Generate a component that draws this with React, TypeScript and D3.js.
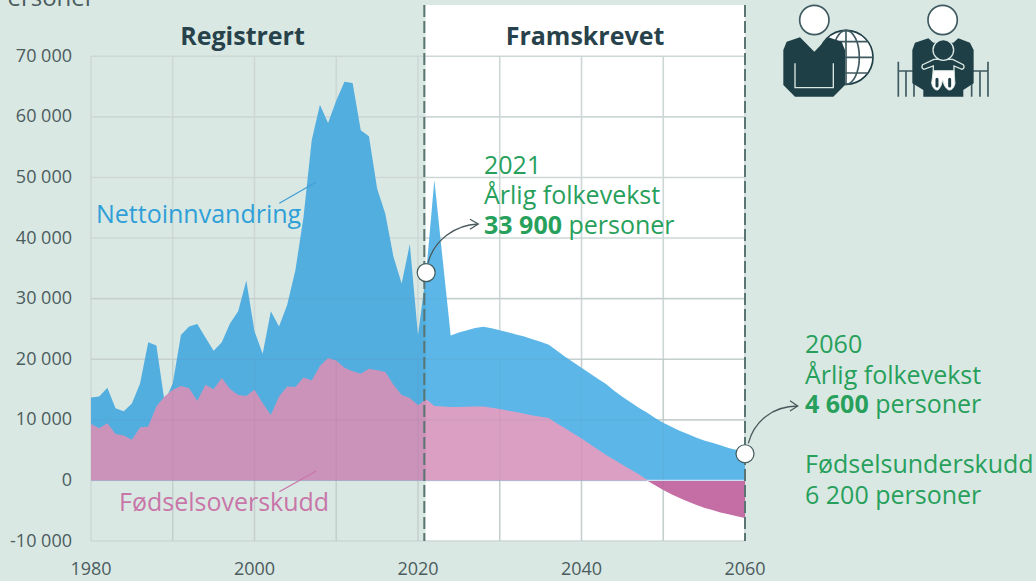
import React from "react";
import * as d3 from "d3";

const years = d3.range(1980, 2061);
const totalGrowth = [
  13700, 13850, 15300, 11900, 11400, 12700, 16000, 22800, 22250, 13000,
  16000, 24000, 25400, 25800, 23600, 21400, 22800, 25900, 27900, 33000,
  24600, 20900, 27900, 25400, 29000, 34700, 43500, 56150, 62000, 59000,
  62700, 65800, 65600, 57800, 56800, 48200, 44000, 36900, 32500, 39000,
  24000, 34300, 49600, 36700, 23900, 24400, 24800, 25150, 25350, 25100,
  24800, 24450, 24100, 23750, 23300, 22900, 22400, 21400, 20400, 19500,
  18600, 17700, 16800, 15900, 14800, 13800, 12900, 12000, 11200, 10300,
  9500, 8850, 8200, 7650, 7100, 6600, 6200, 5800, 5350, 5000, 4500,
];
const naturalIncrease = [
  9300, 8600, 9450, 7650, 7400, 6700, 8750, 8900, 12200, 13850,
  14950, 15600, 15200, 13100, 15800, 15050, 16900, 15100, 14100, 13950,
  14950, 12750, 10800, 13850, 15500, 15400, 17000, 16500, 18900, 20200,
  19800, 18600, 18000, 17600, 18450, 18200, 17900, 15800, 14100, 13600,
  12400, 13400, 12300, 12200, 12100, 12100, 12150, 12200, 12200, 12000,
  11800, 11500, 11300, 11000, 10700, 10500, 10300, 9400, 8600, 7750,
  6900, 6000, 5100, 4200, 3400, 2600, 1800, 1000, 100, -800,
  -1600, -2300, -2900, -3500, -4000, -4500, -4900, -5300, -5600, -5900, -6200,
];
const yTicks = [-10000, 0, 10000, 20000, 30000, 40000, 50000, 60000, 70000];
const xGrid = [1980, 1990, 2000, 2010, 2020, 2030, 2040, 2050, 2060];
const xLabels = [1980, 2000, 2020, 2040, 2060];

const WIDTH = 1036;
const HEIGHT = 581;
const BG = "#dae8e3";
const INK = "#4b5c5e";
const DARK = "#1f3f47";
const GREEN = "#27a05c";
const FONT = "'Open Sans', sans-serif";

const x = d3.scaleLinear().domain([1980, 2060]).range([91, 745]);
const y = d3.scaleLinear().domain([-10000, 70000]).range([541, 56.3]);
const fmt = (v: number) => {
  const s = String(Math.abs(v)).replace(/\B(?=(\d{3})+$)/g, " ");
  return v < 0 ? "-" + s : s;
};

const rows = years.map((year, i) => ({ year, total: totalGrowth[i], natural: naturalIncrease[i] }));
type Row = (typeof rows)[number];

const blueArea = d3.area<Row>().x((d) => x(d.year)).y0(y(0)).y1((d) => y(d.total));
const pinkArea = d3.area<Row>().x((d) => x(d.year)).y0(y(0)).y1((d) => y(Math.max(0, d.natural)));
const deficitArea = d3.area<Row>().x((d) => x(d.year)).y0(y(0)).y1((d) => y(Math.min(0, d.natural)));

const split = x(2021);

function Split({ id, left, right }: { id: string; left: string; right: string }) {
  const offset = (split - 91) / (745 - 91);
  return (
    <linearGradient id={id} gradientUnits="userSpaceOnUse" x1={91} x2={745} y1={0} y2={0}>
      <stop offset={0} stopColor={left} />
      <stop offset={offset} stopColor={left} />
      <stop offset={offset} stopColor={right} />
      <stop offset={1} stopColor={right} />
    </linearGradient>
  );
}

function Arrow({ d, head }: { d: string; head: string }) {
  return (
    <g fill="none" stroke="#4a5a5c" strokeWidth={1.3}>
      <path d={d} />
      <path d={head} />
    </g>
  );
}

function MigrantIcon() {
  return (
    <g transform="translate(760,0) scale(0.3333)">
      <circle cx={258} cy={172} r={81} fill="#fff" stroke={DARK} strokeWidth={5} />
      <g fill="none" stroke="#3f5a60" strokeWidth={5}>
        <ellipse cx={258} cy={172} rx={40} ry={81} />
        <path d="M258 91V253M177 172H339M192 125H324M192 219H324" />
      </g>
      <path
        d="M70 150L80 125L120 112L163 155L205 112L245 125L255 150V255L220 290H105L70 255Z"
        fill={DARK}
      />
      <path d="M105 190V263H220V190" fill="none" stroke={BG} strokeWidth={4} />
      <circle cx={163} cy={60} r={44} fill="#fff" stroke="#3f5a60" strokeWidth={5} />
    </g>
  );
}

function ParentIcon() {
  return (
    <g transform="translate(760,0) scale(0.3333)">
      <g stroke="#3f5a60" strokeWidth={5} fill="none">
        <path d="M415 185V290M438 213V290M462 213V290M635 213V290M660 213V290M684 185V290M415 213H684" />
      </g>
      <path
        d="M457 150L465 128L505 115L520 128H580L595 115L630 128L641 150V250L610 270V290H490V270L457 250Z"
        fill={DARK}
      />
      <circle cx={548} cy={60} r={44} fill="#fff" stroke="#3f5a60" strokeWidth={5} />
      <path
        d="M522 178L488 194Q482 204 492 208L520 198V222H582V198L606 208Q616 204 610 194L578 178Z"
        fill={DARK}
        stroke={BG}
        strokeWidth={4}
      />
      <circle cx={550} cy={150} r={31} fill={DARK} stroke={BG} strokeWidth={4} />
      <path
        d="M520 212L515 250Q520 272 534 270Q544 262 548 240Q552 262 566 270Q580 272 585 250L582 212Z"
        fill="#fff"
        stroke={BG}
        strokeWidth={3}
      />
      <path d="M531 238L531 258M569 238L569 258" stroke={DARK} strokeWidth={9} strokeLinecap="round" />
    </g>
  );
}

export default function App() {
  return (
    <svg
      width={WIDTH}
      height={HEIGHT}
      viewBox={`0 0 ${WIDTH} ${HEIGHT}`}
      style={{ position: "fixed", left: 0, top: 0, display: "block", background: BG, fontFamily: FONT }}
    >
      <defs>
        <Split id="blueFill" left="#53aee0" right="#5cb7e8" />
        <Split id="pinkFill" left="#cc93ba" right="#dc9fc4" />
      </defs>

      <rect x={split - 0.5} y={5} width={745 - split + 0.5} height={y(-10000) - 5} fill="#fff" />

      <g stroke="#cdd8d6" strokeWidth={1.6} fill="none">
        {yTicks.map((t) => (
          <line key={t} x1={91} x2={745} y1={y(t)} y2={y(t)} />
        ))}
        {xGrid.map((t) => (
          <line key={t} x1={x(t)} x2={x(t)} y1={y(70000)} y2={y(-10000)} />
        ))}
      </g>

      <path d={blueArea(rows) ?? ""} fill="url(#blueFill)" />
      <path d={pinkArea(rows) ?? ""} fill="url(#pinkFill)" />
      <path d={deficitArea(rows) ?? ""} fill="#c46ea5" />

      <g stroke="#5a6a70" strokeOpacity={0.07} strokeWidth={1.4}>
        {yTicks.slice(2, 5).map((t) => (
          <line key={t} x1={91} x2={745} y1={y(t)} y2={y(t)} />
        ))}
        {xGrid.slice(1, -1).map((t) => (
          <line key={t} x1={x(t)} x2={x(t)} y1={y(20000)} y2={y(-10000)} />
        ))}
      </g>
      <line x1={x(2048)} x2={745} y1={y(0)} y2={y(0)} stroke="#c9e0ee" strokeWidth={1.2} />

      <g stroke="#5a7572" strokeWidth={2} strokeDasharray="12 4">
        <line x1={424.3} x2={424.3} y1={5} y2={541} />
        <line x1={745} x2={745} y1={5} y2={541} />
      </g>

      <g fontSize={18} fill={INK}>
        {yTicks.map((t) => (
          <text key={t} x={72} y={y(t) + 5.5} textAnchor="end">
            {fmt(t)}
          </text>
        ))}
        {xLabels.map((t) => (
          <text key={t} x={x(t)} y={575} textAnchor="middle">
            {t}
          </text>
        ))}
        <text x={-7} y={6} fontSize={24}>
          Personer
        </text>
      </g>

      <g fontSize={25} fontWeight={700} fill="#27424a" textAnchor="middle">
        <text x={242.5} y={45}>Registrert</text>
        <text x={585} y={45}>Framskrevet</text>
      </g>

      <line x1={279.3} y1={203.3} x2={316.3} y2={182} stroke="#3fa0d8" strokeWidth={1.3} />
      <line x1={279.3} y1={491.7} x2={316.3} y2={471} stroke="#c876a8" strokeWidth={1.3} />
      <text x={96} y={223} fontSize={25} fill="#2f9fd8">Nettoinnvandring</text>
      <text x={119} y={510.7} fontSize={25} fill="#c876a8">Fødselsoverskudd</text>

      <Arrow d="M428 263C434 240 455 225 478 224" head="M470 219.3L478.3 224L470 229.3" />
      <Arrow d="M748.3 443.3C754 422 772 406 797.7 406" head="M790 400.7L797.7 406L790 411" />
      <circle cx={x(2021)} cy={y(34300)} r={9} fill="#fff" stroke="#3f5a5c" strokeWidth={1.2} />
      <circle cx={x(2060)} cy={y(4400)} r={9} fill="#fff" stroke="#3f5a5c" strokeWidth={1.2} />

      <g fontSize={25} fill={GREEN}>
        <text x={484} y={174}>2021</text>
        <text x={484} y={204}>Årlig folkevekst</text>
        <text x={484} y={234}>
          <tspan fontWeight={700}>33 900</tspan> personer
        </text>
        <text x={805} y={353}>2060</text>
        <text x={805} y={384}>Årlig folkevekst</text>
        <text x={805} y={413}>
          <tspan fontWeight={700}>4 600</tspan> personer
        </text>
        <text x={805} y={473}>Fødselsunderskudd</text>
        <text x={805} y={504}>6 200 personer</text>
      </g>

      <MigrantIcon />
      <ParentIcon />
    </svg>
  );
}
